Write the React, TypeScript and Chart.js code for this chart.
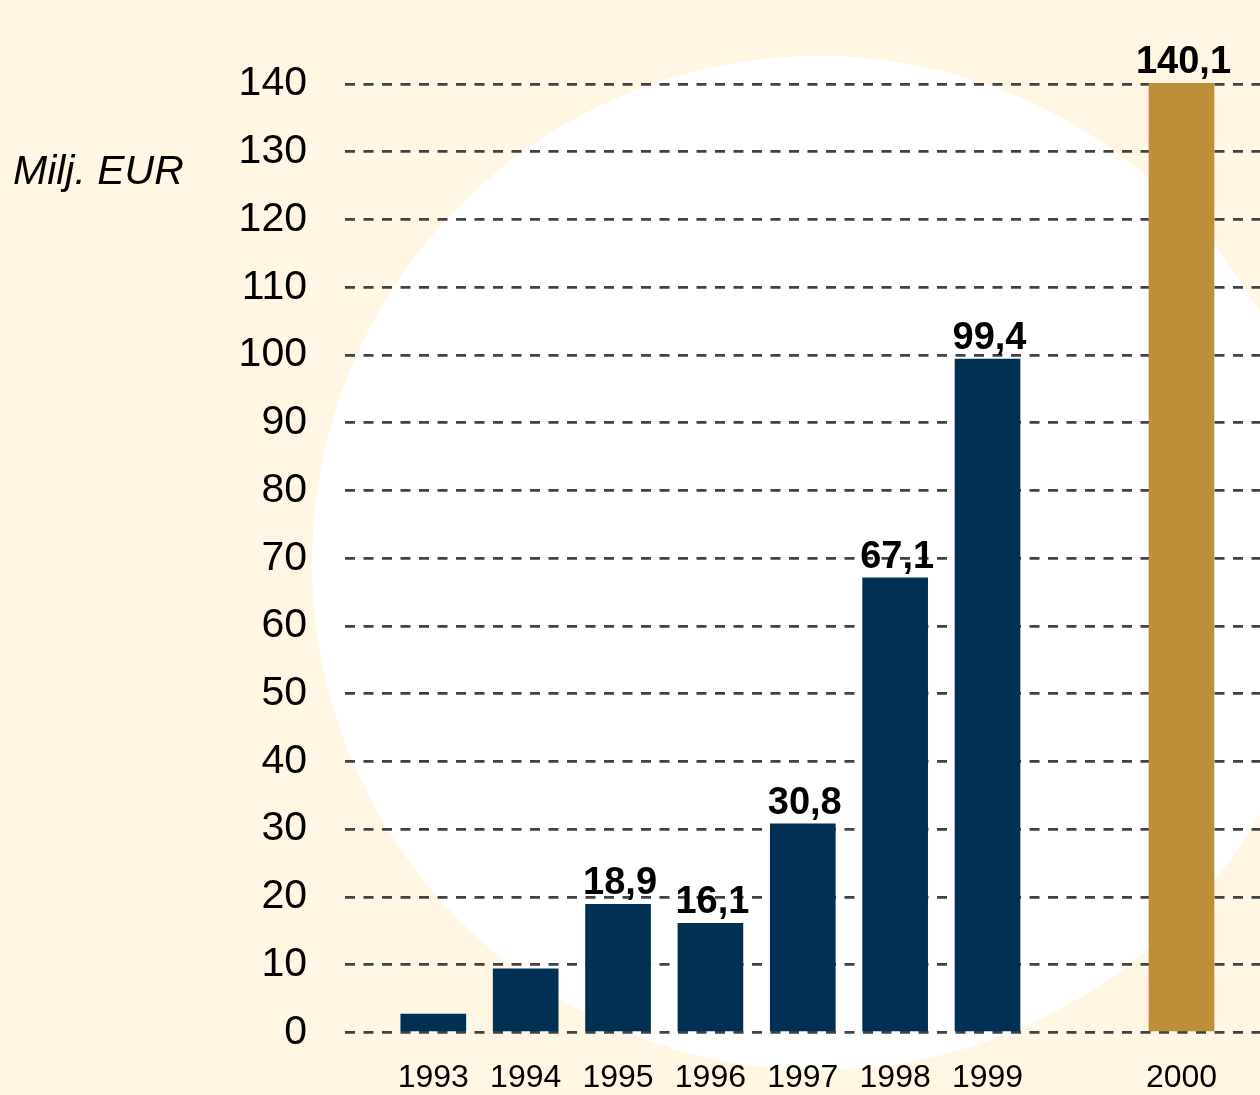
import React, { useEffect, useRef } from "react";
import { Chart, registerables } from "chart.js";

Chart.register(...registerables);

// ---- data ----
const years = ["1993", "1994", "1995", "1996", "1997", "1998", "1999", "2000"];
const values = [2.7, 9.4, 18.9, 16.1, 30.8, 67.1, 99.4, 140.1];
const valueLabels = ["", "", "18,9", "16,1", "30,8", "67,1", "99,4", "140,1"];
const yTickValues = [0, 10, 20, 30, 40, 50, 60, 70, 80, 90, 100, 110, 120, 130, 140];
const unitLabel = "Milj. EUR";

// ---- styles ----
const NAVY = "#003054";
const GOLD = "#BD8F38";
const CREAM = "#FFF6E3";
const GRID = "#404346";
const FONT = 'Arial, "Liberation Sans", Helvetica, sans-serif';
const W = 1260;
const H = 1095;

export default function App() {
  const ref = useRef<HTMLCanvasElement | null>(null);

  useEffect(() => {
    const canvas = ref.current;
    if (!canvas) return;

    // last category (2000) is separated from the rest by an extra gap
    const lastIdx = years.length - 1;
    const xPos = years.map((_, i) => (i === lastIdx ? i + 1.1 : i));
    const points = values.map((v, i) => ({ x: xPos[i], y: v }));
    const colors = years.map((_, i) => (i === lastIdx ? GOLD : NAVY));

    const backdrop = {
      id: "backdrop",
      beforeDraw(chart: any) {
        const { ctx, width, height } = chart;
        ctx.save();
        ctx.fillStyle = CREAM;
        ctx.fillRect(0, 0, width, height);
        ctx.beginPath();
        ctx.arc(819, 563, 507, 0, Math.PI * 2);
        ctx.fillStyle = "#FFFFFF";
        ctx.fill();
        ctx.restore();
      },
    };

    const labelsPlugin = {
      id: "valueLabels",
      afterDatasetsDraw(chart: any) {
        const { ctx } = chart;
        const meta = chart.getDatasetMeta(0);
        ctx.save();
        ctx.fillStyle = "#000";
        ctx.font = `bold 38px ${FONT}`;
        ctx.textAlign = "center";
        ctx.textBaseline = "alphabetic";
        meta.data.forEach((el: any, i: number) => {
          const t = valueLabels[i];
          if (!t) return;
          ctx.fillText(t, el.x + 2, el.y - 10);
        });
        ctx.font = `italic 41px ${FONT}`;
        ctx.textAlign = "left";
        ctx.textBaseline = "middle";
        ctx.fillText(unitLabel, 13, 173);
        ctx.restore();
      },
    };

    const chart = new Chart(canvas, {
      type: "bar",
      data: {
        datasets: [
          {
            data: points as any,
            backgroundColor: colors,
            borderWidth: 0,
            barThickness: 65,
            clip: false as any,
          },
        ],
      },
      options: {
        responsive: false,
        animation: false,
        events: [],
        layout: { padding: { top: 84, left: 0, right: 0, bottom: 0 } },
        plugins: {
          legend: { display: false },
          tooltip: { enabled: false },
          title: { display: false },
        },
        scales: {
          x: {
            type: "linear",
            offset: false,
            min: -0.956,
            max: 8.95,
            grid: { display: false, drawTicks: false, offset: false },
            border: { display: false },
            afterBuildTicks: (s: any) => {
              s.ticks = xPos.map((v) => ({ value: v }));
            },
            afterFit: (s: any) => {
              s.height = 62;
            },
            ticks: {
              autoSkip: false,
              maxRotation: 0,
              padding: 27,
              color: "#000",
              font: { family: FONT, size: 32 },
              callback: (_v: any, i: number) => years[i],
            },
          },
          y: {
            type: "linear",
            min: 0,
            max: 140,
            afterBuildTicks: (s: any) => {
              s.ticks = yTickValues.map((v) => ({ value: v }));
            },
            afterFit: (s: any) => {
              s.width = 345;
            },
            grid: {
              color: GRID,
              lineWidth: 2.8,
              drawTicks: false,
            },
            border: { display: false, dash: [10, 8.5] },
            ticks: {
              padding: 38,
              color: "#000",
              font: { family: FONT, size: 41 },
              callback: (v: any) => String(v),
            },
          },
        },
      },
      plugins: [backdrop, labelsPlugin],
    } as any);

    return () => chart.destroy();
  }, []);

  return (
    <div style={{ position: "fixed", left: 0, top: 0, width: W, height: H, overflow: "hidden" }}>
      <canvas ref={ref} width={W} height={H} style={{ display: "block", width: W, height: H }} />
    </div>
  );
}
